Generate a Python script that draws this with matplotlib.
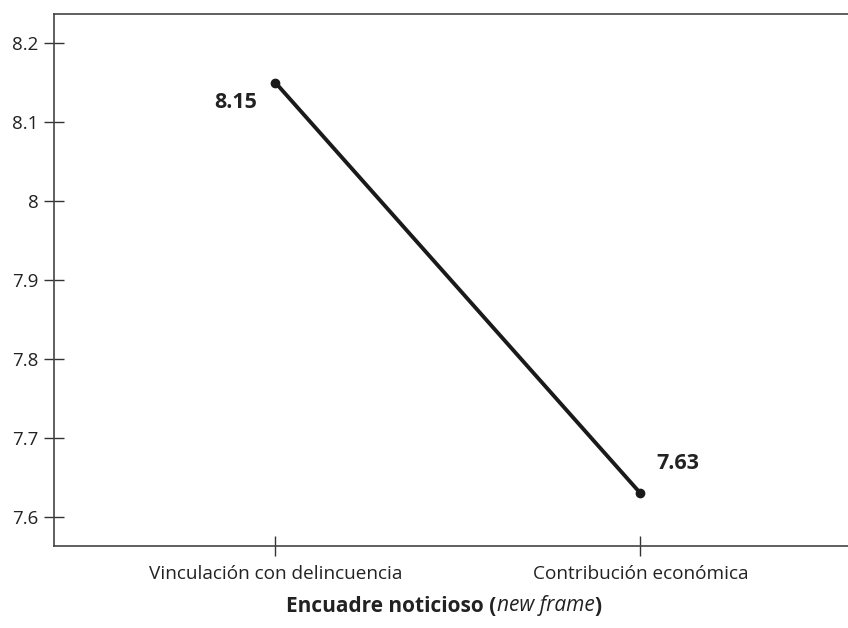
import matplotlib
matplotlib.use("Agg")
import matplotlib.pyplot as plt

categories = ["Vinculación con delincuencia", "Contribución económica"]
values = [8.15, 7.63]
value_labels = ["8.15", "7.63"]
yticks = [7.6, 7.7, 7.8, 7.9, 8.0, 8.1, 8.2]
ytick_labels = ["7.6", "7.7", "7.8", "7.9", "8", "8.1", "8.2"]

plt.rcParams['font.family'] = ['Open Sans', 'DejaVu Sans']

fig = plt.figure(figsize=(8.48, 6.28), dpi=100)
ax = fig.add_axes([54/848, 82/628, 1 - 54/848 + 0.002, (546-14)/628])

x = list(range(len(categories)))
ax.plot(x, values, color='#1a1a1a', lw=2.8, marker='o', ms=6, solid_capstyle='round')

ax.set_xlim(-0.607, 1.574)
ax.set_ylim(7.563, 8.237)
ax.set_xticks(x)
ax.set_xticklabels(categories, fontsize=13.7, color='#222222')
ax.set_yticks(yticks)
ax.set_yticklabels(ytick_labels, fontsize=13.5, color='#222222')
ax.tick_params(direction='inout', length=14, width=1.0, color='#333333', pad=4)
ax.tick_params(axis='x', pad=7)
for s in ax.spines.values():
    s.set_color('#444444')
    s.set_linewidth(1.2)

ax.annotate(value_labels[0], xy=(x[0], values[0]), xytext=(-40, -20), textcoords='offset pixels',
            ha='center', va='center', fontsize=15.5, fontweight='bold', color='#222222')
ax.annotate(value_labels[1], xy=(x[1], values[1]), xytext=(38, 30), textcoords='offset pixels',
            ha='center', va='center', fontsize=15.5, fontweight='bold', color='#222222')

# Composite x label
y_lab = (628 - 606) / 628
t1 = fig.text(0, y_lab, "Encuadre noticioso (", fontsize=15, fontweight='bold', color='#222222', va='center')
t2 = fig.text(0, y_lab, "new frame", fontsize=15, style='italic', color='#222222', va='center')
t3 = fig.text(0, y_lab, ")", fontsize=15, fontweight='bold', color='#222222', va='center')
fig.canvas.draw()
r = fig.canvas.get_renderer()
w1 = t1.get_window_extent(r).width
w2 = t2.get_window_extent(r).width
w3 = t3.get_window_extent(r).width
total = w1 + w2 + w3
start = 444 - total / 2
t1.set_x(start / 848)
t2.set_x((start + w1) / 848)
t3.set_x((start + w1 + w2) / 848)

fig.savefig("out.png", dpi=100)
